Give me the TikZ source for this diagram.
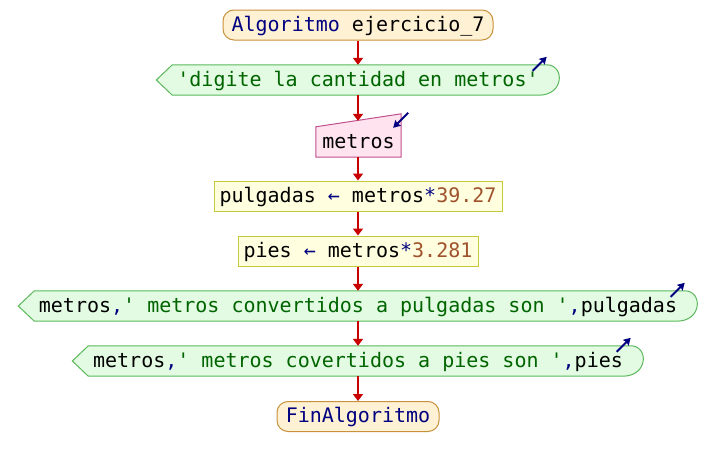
\documentclass[tikz,border=0pt]{standalone}
\usepackage{fontspec}
\setmonofont{DejaVu Sans Mono}
\usetikzlibrary{arrows.meta,backgrounds}

% colour scheme of the flowchart
\definecolor{kwblue}{HTML}{000080}
\definecolor{strgreen}{HTML}{006400}
\definecolor{numbrown}{HTML}{A0522D}
\definecolor{flowred}{HTML}{C80000}
\definecolor{termfill}{HTML}{FFF1D4}
\definecolor{termdraw}{HTML}{C8913C}
\definecolor{outfill}{HTML}{E2FBE2}
\definecolor{outdraw}{HTML}{5CB85C}
\definecolor{infill}{HTML}{FFE3EF}
\definecolor{indraw}{HTML}{C0508C}
\definecolor{asgfill}{HTML}{FFFFE0}
\definecolor{asgdraw}{HTML}{C8C83C}

% syntax colouring helpers
\newcommand{\pkw}[1]{\textcolor{kwblue}{#1}}
\newcommand{\pstrlit}[1]{\textcolor{strgreen}{#1}}
\newcommand{\pnum}[1]{\textcolor{numbrown}{#1}}

\begin{document}
\begin{tikzpicture}[x=1pt,y=-1pt,
  every node/.style={font=\ttfamily\fontsize{20}{24}\selectfont,
    text height=15pt, text depth=3pt, inner sep=0pt},
  terminal/.style={draw=termdraw, fill=termfill, line width=1pt,
    rounded corners=11pt, minimum height=30pt},
  assign/.style={draw=asgdraw, fill=asgfill, line width=1pt, minimum height=30pt},
  blockbox/.style={minimum height=30pt},
  outshape/.style={draw=outdraw, fill=outfill, line width=1pt},
  inshape/.style={draw=indraw, fill=infill, line width=1pt},
  flow/.style={draw=flowred, line width=2pt, -{Triangle[width=10pt,length=7pt]}},
  flag/.style={draw=kwblue, line width=2pt,
    -{Stealth[length=7pt,width=8pt,inset=1pt]}}]

\useasboundingbox (0,0) rectangle (716,466);
\begin{scope}[on background layer]
  \fill[white] (0,0) rectangle (716,466);
\end{scope}

% blocks
\node[terminal, minimum width=270pt] (start) at (358,25)
  {\pkw{Algoritmo} ejercicio\_7};
\node[blockbox, minimum width=403pt] (o1) at (358,80)
  {\pstrlit{'digite la cantidad en metros'}};
\node[blockbox, minimum width=85pt] (in1) at (358.5,142) {metros};
\node[assign, minimum width=288pt] (a1) at (358,196)
  {pulgadas \pkw{←} metros\pkw{*}\pnum{39.27}};
\node[assign, minimum width=240pt] (a2) at (358,251)
  {pies \pkw{←} metros\pkw{*}\pnum{3.281}};
\node[blockbox, minimum width=679pt] (o2) at (358,306)
  {metros\pkw{,}\pstrlit{' metros convertidos a pulgadas son '}\pkw{,}pulgadas};
\node[blockbox, minimum width=571pt] (o3) at (358,361)
  {metros\pkw{,}\pstrlit{' metros covertidos a pies son '}\pkw{,}pies};
\node[terminal, minimum width=162pt] (end) at (358,416.5) {\pkw{FinAlgoritmo}};

% output and input outlines behind their texts
\begin{scope}[on background layer]
  \foreach \o in {o1,o2,o3}{
    \draw[outshape] (\o.west) -- ([xshift=16pt]\o.north west)
      -- ([xshift=-13pt]\o.north east)
      .. controls ([xshift=5pt]\o.north east) and ([xshift=5pt]\o.south east)
      .. ([xshift=-21pt]\o.south east)
      -- ([xshift=16pt]\o.south west) -- cycle;
  }
  \draw[inshape] (in1.south west) -- (in1.north west)
    -- ([yshift=13pt]in1.north east) -- (in1.south east) -- cycle;
\end{scope}

% direction marks of the I/O blocks
\foreach \o in {o1,o2,o3}{
  \draw[flag] ([xshift=-27pt,yshift=-6pt]\o.north east)
    -- ([xshift=-13pt,yshift=8pt]\o.north east);
}
\draw[flag] ([xshift=7pt,yshift=14pt]in1.north east)
  -- ([xshift=-8pt,yshift=-1pt]in1.north east);

% flow connectors
\draw[flow] (start.south) -- (o1.north);
\draw[flow] (o1.south) -- ([xshift=-0.5pt,yshift=6pt]in1.north);
\draw[flow] ([xshift=-0.5pt]in1.south) -- (a1.north);
\draw[flow] (a1.south) -- (a2.north);
\draw[flow] (a2.south) -- (o2.north);
\draw[flow] (o2.south) -- (o3.north);
\draw[flow] (o3.south) -- (end.north);
\end{tikzpicture}
\end{document}
